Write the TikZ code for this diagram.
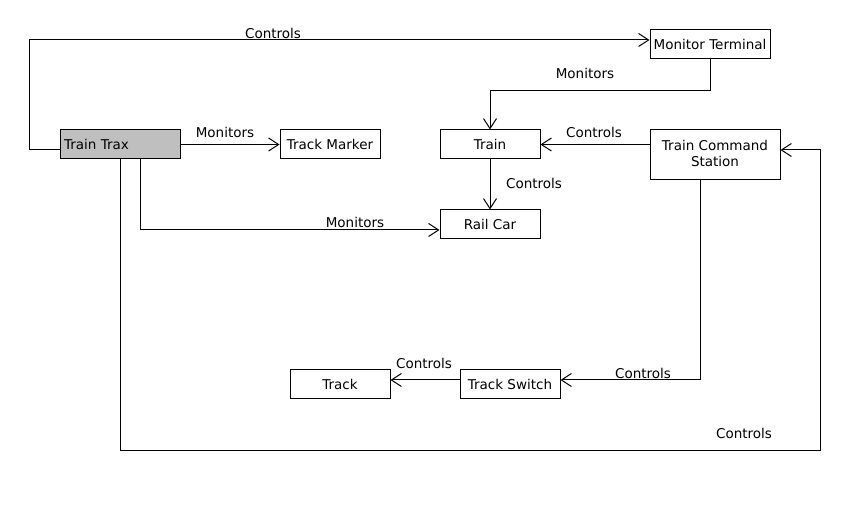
\documentclass[tikz,border=0pt]{standalone}
\usepackage{fontspec}
\setmainfont{DejaVu Sans}
\usetikzlibrary{arrows.meta}
\tikzset{
    box/.style={draw, line width=1pt, inner sep=0pt, minimum width=100pt, minimum height=29pt},
    assoc/.style={line width=1pt, -{Straight Barb[length=10pt, width=13pt, line width=1pt]}}
}
\begin{document}
\begin{tikzpicture}[x=1pt, y=-1pt, font=\fontsize{13.5}{16}\selectfont]
            \useasboundingbox (0,0) rectangle (860,510);
            \node[box, fill=black!25, minimum width=120pt, text width=112pt, align=left] at (120,144.5) (trax) {Train Trax};
            \node[box] at (330,144.5) (marker) {Track Marker};
            \node[box, minimum width=120pt] at (710,44.5) (monitor) {Monitor Terminal};
            \node[box] at (490,144.5) (train) {Train};
            \node[box, minimum width=130pt, minimum height=50pt, align=center] at (715,155) (station) {Train Command\\Station\vphantom{g}};
            \node[box] at (490,224.5) (railcar) {Rail Car};
            \node[box] at (340,384.5) (track) {Track};
            \node[box] at (510,384.5) (switch) {Track Switch};
            % labels
            \node at (273,33) (ctrlmonitor) {Controls};
            \node at (225,132) (monmarker) {Monitors};
            \node at (585,73) (montrain) {Monitors};
            \node at (594,132) (ctrltrain) {Controls};
            \node at (534,183) (ctrlcar) {Controls};
            \node at (355,222) (moncar) {Monitors};
            \node at (643,373) (ctrlswitch) {Controls};
            \node at (424,363) (ctrltrack) {Controls};
            \node at (744,433) (ctrlstation) {Controls};
            % connectors
            \draw[assoc] ([yshift=-5.5pt]trax.west) -- ++(-30,0) |- ([yshift=4.5pt]monitor.west);
            \draw[assoc] (trax.east) -- (marker.west);
            \draw[assoc] (monitor.south) -- ++(0,31) -| (train.north);
            \draw[assoc] (station.west |- train.east) -- (train.east);
            \draw[assoc] (train.south) -- (railcar.north);
            \draw[assoc] ([xshift=20pt]trax.south) |- ([yshift=-5.5pt]railcar.west);
            \draw[assoc] ([xshift=-15pt]station.south) |- ([yshift=4.5pt]switch.east);
            \draw[assoc] ([yshift=4.5pt]switch.west) -- ([yshift=4.5pt]track.east);
            \draw[assoc] (trax.south) -- ++(0,291) -| ([xshift=40pt,yshift=5pt]station.east) -- ([yshift=5pt]station.east);
        \end{tikzpicture}
\end{document}
